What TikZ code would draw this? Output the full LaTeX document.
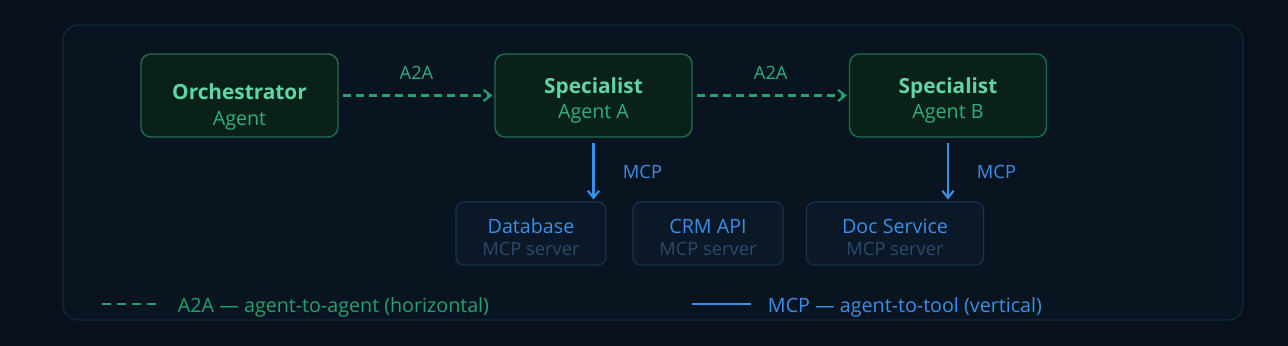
\documentclass[tikz,border=0pt]{standalone}
\usepackage{fontspec}
\setmainfont{Open Sans}
\usetikzlibrary{arrows.meta}
\definecolor{bg}{HTML}{07101B}
\definecolor{framefill}{HTML}{08141F}
\definecolor{frameedge}{HTML}{132A3F}
\definecolor{agentfill}{HTML}{0A2119}
\definecolor{agentedge}{HTML}{1C6E50}
\definecolor{agenttitle}{HTML}{5FD6A4}
\definecolor{agentsub}{HTML}{2DB07E}
\definecolor{agreen}{HTML}{22A270}
\definecolor{toolfill}{HTML}{0A1828}
\definecolor{tooledge}{HTML}{1A3450}
\definecolor{mblue}{HTML}{3A8FE6}
\definecolor{toolsub}{HTML}{2C4A68}
\tikzset{
  agentbox/.style={draw=agentedge, fill=agentfill, line width=1pt, rounded corners=0.25cm, minimum width=4.925cm, minimum height=2.075cm},
  toolbox/.style={draw=tooledge, fill=toolfill, line width=0.8pt, rounded corners=0.2cm, minimum width=3.75cm, minimum height=1.575cm},
  a2a/.style={agreen, line width=1.5pt, dash pattern=on 5.7pt off 3.6pt, -{Straight Barb[length=5pt,width=8pt]}},
  mcp/.style={mblue, line width=1.5pt, -{Straight Barb[length=5pt,width=8pt]}},
  atitle/.style={anchor=base, text=agenttitle, font=\bfseries\fontsize{14.8}{17}\selectfont},
  asub/.style={anchor=base, text=agentsub, font=\fontsize{14}{16}\selectfont},
  ttitle/.style={anchor=base, text=mblue, font=\fontsize{14}{16}\selectfont},
  tsub/.style={anchor=base, text=toolsub, font=\fontsize{13}{15}\selectfont},
  lbl/.style={anchor=base, font=\fontsize{13}{15}\selectfont},
  key/.style={anchor=base west, font=\fontsize{14}{16}\selectfont}
}
\begin{document}
\begin{tikzpicture}[x=0.025cm, y=-0.025cm]
\fill[bg] (0,0) rectangle (1288,346);
\useasboundingbox (0,0) rectangle (1288,346);
\draw[frameedge, fill=framefill, line width=0.8pt, rounded corners=0.375cm] (63,25) rectangle (1243,320);
% agents
\node[agentbox] (O) at (239.5,95.5) {};
\node[agentbox] (SA) at (593.5,95.5) {};
\node[agentbox] (SB) at (948,95.5) {};
\node[atitle] (O-t) at (239.5,100) {Orchestrator};
\node[asub] (O-s) at (239.5,126) {Agent};
\node[atitle] (SA-t) at (593.5,94) {Specialist};
\node[asub] (SA-s) at (593.5,119) {Agent A};
\node[atitle] (SB-t) at (948,94) {Specialist};
\node[asub] (SB-s) at (948,119) {Agent B};
% tools
\node[toolbox] (DB) at (531,233.5) {};
\node[toolbox] (CRM) at (708,233.5) {};
\node[toolbox, minimum width=4.425cm] (DOC) at (895,233.5) {};
\node[ttitle] (DB-t) at (531,234) {Database};
\node[tsub] (DB-s) at (531,256) {MCP server};
\node[ttitle] (CRM-t) at (708,234) {CRM API};
\node[tsub] (CRM-s) at (708,256) {MCP server};
\node[ttitle] (DOC-t) at (895,234) {Doc Service};
\node[tsub] (DOC-s) at (895,256) {MCP server};
% connectors
\draw[a2a, shorten <=2.8pt, shorten >=1.4pt] (O) -- (SA) node[lbl, midway, yshift=11.4pt, text=agentsub] (L1) {A2A};
\draw[a2a, shorten <=2.8pt, shorten >=1.4pt] (SA) -- (SB) node[lbl, midway, yshift=11.4pt, text=agentsub] (L2) {A2A};
\draw[mcp, shorten <=3.5pt, shorten >=1.4pt] (SA.south) -- (SA.south |- DB.north);
\draw[mcp, shorten <=3.5pt, shorten >=1.4pt] (SB.south) -- (SB.south |- DOC.north);
\node[lbl, anchor=base west, text=mblue] (L3) at (618,179) {MCP};
\node[lbl, anchor=base west, text=mblue] (L4) at (972,179) {MCP};
% legend
\draw[agreen, line width=1.5pt, dash pattern=on 6.4pt off 4.3pt] (102,304) -- (160,304);
\node[key, text=agreen] (K1) at (173,313) {A2A — agent-to-agent (horizontal)};
\draw[mblue, line width=1.5pt] (692,304) -- (751,304);
\node[key, text=mblue] (K2) at (763,313) {MCP — agent-to-tool (vertical)};
\end{tikzpicture}
\end{document}
